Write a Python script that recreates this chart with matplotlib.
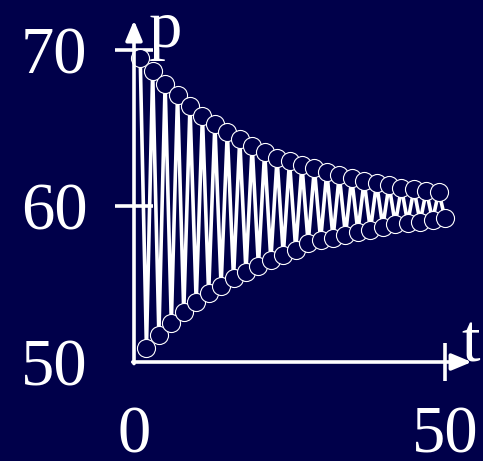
import matplotlib
matplotlib.use('Agg')
import matplotlib.pyplot as plt

# Serie de precios p_t (oscilación amortiguada alrededor de 60)
t = list(range(1, 51))
p = [69.47, 50.88, 68.65, 51.73, 67.80, 52.52, 67.12, 53.19, 66.41, 53.83,
     65.79, 54.40, 65.24, 54.87, 64.76, 55.37, 64.29, 55.79, 63.87, 56.17,
     63.48, 56.54, 63.06, 56.86, 62.88, 57.20, 62.63, 57.61, 62.42, 57.82,
     62.20, 57.93, 61.99, 58.14, 61.78, 58.35, 61.60, 58.46, 61.46, 58.67,
     61.35, 58.85, 61.17, 58.93, 61.07, 59.00, 60.98, 59.10, 60.92, 59.21]

xticks = [0, 50]
yticks = [50, 60, 70]

FONDO = '#00004a'
plt.rcParams['font.family'] = ['Liberation Serif', 'DejaVu Serif']

fig = plt.figure(figsize=(4.83, 4.61), dpi=100)
fig.patch.set_facecolor(FONDO)
ax = fig.add_axes([134 / 483, 1 - 362 / 461, 311 / 483, 312 / 461])
ax.set_facecolor(FONDO)
ax.set_xlim(0, 50)
ax.set_ylim(50, 70)

# Zigzag con uniones en punta y marcadores huecos
ax.plot(t, p, color='white', lw=2.6, solid_joinstyle='miter', zorder=3,
        clip_on=False)
ax.plot(t, p, 'o', ms=13, mfc=FONDO, mec='white', mew=0.8, zorder=4,
        clip_on=False)

# Ejes con flecha
for s in ax.spines.values():
    s.set_visible(False)
flecha = dict(arrowstyle='-|>,head_length=0.6,head_width=0.25',
              mutation_scale=20, lw=2.6, color='white',
              shrinkA=0, shrinkB=0)
ax.annotate('', xy=(54.3, 50), xytext=(-0.2, 50), arrowprops=flecha,
            annotation_clip=False, zorder=5)
ax.annotate('', xy=(0, 71.9), xytext=(0, 49.9), arrowprops=flecha,
            annotation_clip=False, zorder=5)

ax.set_xticks(xticks)
ax.set_yticks(yticks)
ax.tick_params(direction='inout', length=27, width=2.6, color='white',
               labelcolor='white', labelsize=48, pad=20)
ax.tick_params(axis='x', pad=18)
ax.xaxis.get_major_ticks()[0].tick1line.set_visible(False)
ax.yaxis.get_major_ticks()[0].tick1line.set_visible(False)

ax.text(2.4, 70.2, 'p', color='white', fontsize=48, va='baseline',
        ha='left', clip_on=False)
ax.text(52.6, 50.0, 't', color='white', fontsize=48, va='baseline',
        ha='left', clip_on=False)

fig.savefig('out.png', dpi=100, facecolor=FONDO)
